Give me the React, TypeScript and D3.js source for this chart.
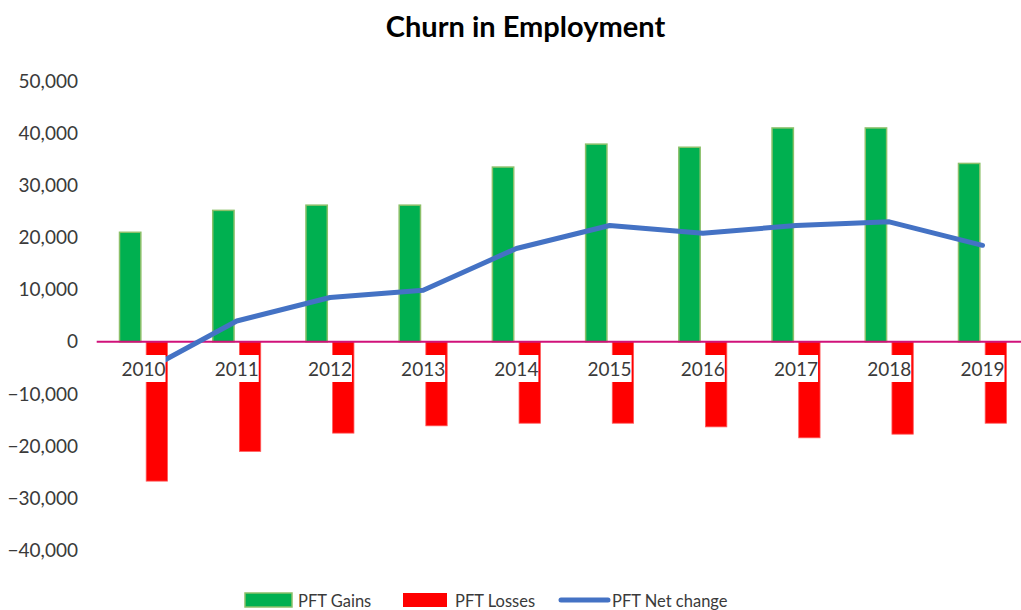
import React from "react";
import { scaleBand, scaleLinear, line, format } from "d3";

const years = ["2010", "2011", "2012", "2013", "2014", "2015", "2016", "2017", "2018", "2019"];
const gains = [21000, 25200, 26200, 26200, 33500, 37900, 37300, 41000, 41000, 34200];
const losses = [-26700, -21000, -17500, -16100, -15600, -15600, -16300, -18400, -17700, -15600];
const netChange = [-5700, 4000, 8500, 9900, 17900, 22300, 20800, 22300, 23000, 18500];
const yTicks = [50000, 40000, 30000, 20000, 10000, 0, -10000, -20000, -30000, -40000];

const W = 1021;
const H = 610;
const FONT = "Lato, 'Open Sans', sans-serif";

export default function App() {
  const x = scaleBand<string>().domain(years).range([96.9, 1029.1]).padding(0);
  const inner = scaleBand<string>().domain(["gains", "losses"]).range([-24, 24]).paddingInner(0.2);
  const y = scaleLinear().domain([-40000, 50000]).range([550.5, 81]);
  const fmt = format(",");

  const cx = (yr: string) => (x(yr) ?? 0) + x.bandwidth() / 2;

  const netLine = line<number>()
    .x((_, i) => cx(years[i]))
    .y(d => y(d));

  const bw = inner.bandwidth();

  return (
    <div style={{ position: "absolute", left: 0, top: 0 }}>
      <svg width={W} height={H} style={{ display: "block", background: "#fff" }}>
        <text x={525.5} y={37} textAnchor="middle" fontFamily={FONT} fontWeight="bold" fontSize={29} fill="#000">
          Churn in Employment
        </text>

        {/* y tick labels */}
        {yTicks.map(t => (
          <text key={t} x={78} y={y(t) + 6.5} textAnchor="end" fontFamily={FONT} fontSize={19} fill="#3a3a3a">
            {fmt(t)}
          </text>
        ))}

        {/* gains */}
        {years.map((yr, i) => (
          <rect
            key={`g-${yr}`}
            x={cx(yr) + (inner("gains") ?? 0)}
            y={y(gains[i])}
            width={bw}
            height={y(0) - y(gains[i])}
            fill="#00B050"
            stroke="#8CC06A"
            strokeWidth={1.5}
          />
        ))}

        {/* losses */}
        {years.map((yr, i) => (
          <rect
            key={`l-${yr}`}
            x={cx(yr) + (inner("losses") ?? 0)}
            y={y(0)}
            width={bw}
            height={y(losses[i]) - y(0)}
            fill="#FF0000"
            stroke="#FF5A5A"
            strokeWidth={0.8}
          />
        ))}

        {/* zero axis */}
        <line x1={96.7} x2={W} y1={y(0)} y2={y(0)} stroke="#D0127A" strokeWidth={2} />

        {/* net change */}
        <path d={netLine(netChange) ?? ""} fill="none" stroke="#4472C4" strokeWidth={5} strokeLinejoin="round" strokeLinecap="round" />

        {/* category labels with white boxes */}
        {years.map(yr => (
          <g key={`lab-${yr}`}>
            <rect x={cx(yr) - 22} y={355} width={44} height={27} fill="#fff" />
            <text x={cx(yr)} y={375.5} textAnchor="middle" fontFamily={FONT} fontSize={19} fill="#3a3a3a">
              {yr}
            </text>
          </g>
        ))}

        {/* legend */}
        <g fontFamily={FONT} fontSize={16.5} fill="#3a3a3a">
          <rect x={245} y={593} width={47} height={14} fill="#00B050" stroke="#8CC06A" strokeWidth={1.5} />
          <text x={298} y={606.5}>PFT Gains</text>
          <rect x={403} y={593} width={44} height={14} fill="#FF0000" />
          <text x={455} y={606.5}>PFT Losses</text>
          <line x1={561} x2={608} y1={600} y2={600} stroke="#4472C4" strokeWidth={5} strokeLinecap="round" />
          <text x={612} y={606.5}>PFT Net change</text>
        </g>
      </svg>
    </div>
  );
}
